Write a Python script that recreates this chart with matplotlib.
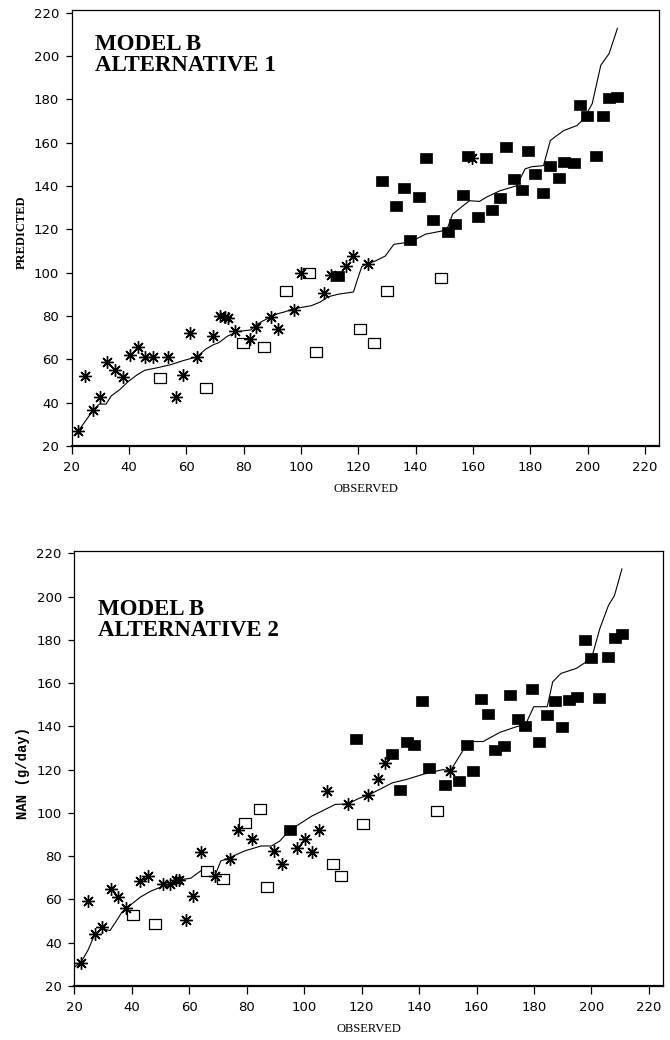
import matplotlib
matplotlib.use("Agg")
import matplotlib.pyplot as plt

# ---- panel 1: MODEL B, ALTERNATIVE 1 ----
star_x1 = [22.3, 24.8, 27.6, 29.9, 32.4, 35.2, 37.9, 40.2, 43.0, 45.5, 48.2, 53.7, 56.3, 59.0,
           61.4, 63.7, 69.2, 71.7, 73.5, 74.6, 76.9, 82.1, 84.3, 89.5, 92.1, 97.5, 100.1, 108.1,
           110.4, 115.7, 118.3, 123.3, 159.5]
star_y1 = [27.1, 52.3, 36.8, 42.6, 58.8, 55.1, 51.7, 62.0, 65.7, 61.2, 61.2, 61.2, 42.7, 52.7,
           72.1, 61.2, 70.9, 79.9, 79.6, 79.3, 73.2, 69.4, 74.8, 79.6, 73.9, 82.9, 99.7, 90.8,
           99.0, 103.0, 107.5, 103.9, 153.0]
open_x1 = [50.8, 66.7, 79.6, 87.2, 94.8, 102.7, 105.4, 120.6, 125.5, 130.0, 148.8]
open_y1 = [51.5, 46.8, 67.7, 65.7, 91.5, 99.7, 63.6, 73.9, 67.7, 91.5, 97.5]
fill_x1 = [113.0, 128.3, 135.9, 133.2, 141.0, 143.5, 138.2, 146.1, 151.2, 153.9, 156.4, 158.2,
           161.7, 164.4, 166.8, 169.4, 171.5, 174.3, 177.0, 179.3, 181.7, 184.4, 187.0, 189.9,
           191.9, 195.2, 197.5, 199.9, 202.8, 205.2, 207.5, 210.4]
fill_y1 = [98.5, 142.5, 139.1, 130.9, 135.0, 152.8, 115.0, 124.4, 118.6, 122.7, 136.0, 154.0,
           125.8, 153.0, 128.9, 134.4, 158.2, 143.2, 138.1, 156.3, 145.6, 136.6, 149.1, 143.7,
           151.0, 150.5, 177.5, 172.5, 154.0, 172.5, 180.7, 181.0]
line_x1 = [20.9, 22.3, 27.6, 29.6, 32.0, 33.8, 36.7, 39.7, 42.6, 45.5, 49.6, 54.3, 59.0, 63.7,
           66.7, 69.6, 71.3, 74.3, 77.8, 82.5, 84.3, 86.6, 89.5, 91.9, 94.2, 97.5, 103.6, 106.6,
           109.5, 113.0, 118.3, 119.5, 121.2, 123.3, 125.9, 129.4, 132.4, 138.2, 143.5, 149.4,
           151.2, 152.9, 155.8, 158.8, 162.3, 164.6, 169.4, 175.2, 178.2, 180.5, 184.6, 187.0,
           189.3, 191.7, 196.3, 198.7, 201.6, 204.6, 207.5, 210.4]
line_y1 = [25.0, 27.0, 36.8, 39.4, 39.4, 43.2, 46.0, 49.8, 52.7, 55.0, 56.1, 57.5, 59.5, 61.2,
           64.7, 66.9, 67.7, 70.7, 72.9, 73.6, 75.9, 77.7, 79.6, 81.1, 81.9, 83.4, 84.8, 86.4,
           88.9, 90.1, 91.1, 96.1, 102.8, 104.2, 105.4, 107.7, 113.1, 114.2, 117.8, 119.3,
           120.9, 127.0, 130.1, 133.2, 132.9, 134.8, 137.8, 140.1, 147.9, 148.9, 149.4, 161.0,
           163.3, 165.6, 167.9, 171.0, 178.0, 195.7, 201.1, 212.7]

# ---- panel 2: MODEL B, ALTERNATIVE 2 ----
star_x2 = [22.2, 24.7, 27.1, 29.7, 32.6, 35.1, 38.0, 42.9, 45.6, 50.9, 53.2, 55.5, 56.5, 59.0,
           61.4, 64.0, 68.9, 74.3, 76.9, 81.9, 89.4, 92.1, 97.6, 100.3, 102.6, 105.0, 107.9,
           115.3, 122.3, 125.7, 128.2, 150.9]
star_y2 = [30.7, 59.1, 43.8, 47.1, 64.8, 61.0, 55.9, 68.6, 70.9, 67.1, 67.1, 68.9, 69.2, 50.5,
           61.7, 82.1, 70.9, 78.6, 91.9, 87.8, 82.4, 76.6, 84.0, 88.1, 82.1, 91.9, 110.3,
           104.2, 108.2, 115.9, 123.1, 119.5]
open_x2 = [40.3, 48.2, 66.3, 71.6, 79.5, 84.5, 87.2, 110.2, 112.9, 120.5, 146.2]
open_y2 = [53.0, 48.4, 73.2, 69.4, 95.2, 101.9, 65.9, 76.3, 70.6, 94.7, 100.8]
fill_x2 = [95.0, 118.1, 130.5, 133.3, 135.7, 138.3, 140.9, 143.6, 148.9, 153.9, 156.5, 158.8,
           161.4, 164.1, 166.4, 169.4, 171.7, 174.3, 177.0, 179.3, 181.9, 184.6, 187.2, 189.9,
           192.3, 194.9, 197.7, 200.0, 202.7, 205.6, 208.2, 210.7]
fill_y2 = [92.1, 134.1, 127.2, 110.8, 132.6, 131.5, 151.7, 120.8, 113.1, 114.6, 131.5, 119.5,
           152.5, 145.8, 129.2, 130.7, 154.5, 143.5, 140.2, 157.3, 133.0, 145.3, 151.7, 139.6,
           152.1, 153.7, 180.1, 171.7, 153.0, 172.1, 180.9, 182.9]
line_x2 = [20.0, 22.2, 24.7, 27.1, 29.7, 32.4, 34.7, 36.5, 38.0, 40.0, 42.9, 46.4, 49.9, 53.2,
           55.8, 60.5, 64.0, 66.3, 68.9, 71.0, 74.3, 79.2, 85.0, 88.6, 91.5, 95.0, 99.1, 102.6,
           106.1, 110.8, 115.3, 119.0, 122.3, 130.7, 135.4, 141.8, 148.3, 150.9, 156.5, 158.8,
           162.3, 168.2, 174.0, 177.0, 179.9, 184.6, 186.5, 189.4, 194.7, 200.0, 202.9, 205.9,
           208.0, 210.6]
line_y2 = [28.7, 30.7, 36.4, 43.8, 46.4, 45.6, 50.2, 54.0, 55.9, 57.9, 61.0, 63.7, 65.6, 67.1,
           68.9, 69.8, 73.2, 74.0, 70.9, 77.8, 79.4, 82.4, 84.7, 84.7, 87.0, 92.1, 95.5, 98.5,
           100.8, 103.9, 104.2, 106.7, 108.2, 113.9, 115.4, 118.0, 120.0, 119.5, 131.5, 133.0,
           133.0, 137.3, 139.9, 140.7, 149.1, 149.1, 160.6, 164.5, 166.8, 171.4, 185.2, 195.9,
           200.5, 212.8]

ticks = [20, 40, 60, 80, 100, 120, 140, 160, 180, 200, 220]

rect = [(-1.25, -1), (1.25, -1), (1.25, 1), (-1.25, 1), (-1.25, -1)]

fig = plt.figure(figsize=(6.7, 10.4), dpi=100)
ax1 = fig.add_axes([0.107, 0.571, 0.877, 0.419])
ax2 = fig.add_axes([0.111, 0.052, 0.879, 0.418])


def draw(ax, sx, sy, ox, oy, fx, fy, lx, ly, title, ty, ylabel, yfont):
    ax.plot(lx, ly, color="black", lw=0.8, zorder=2)
    ax.plot(ox, oy, ls="none", marker=rect, ms=9, mfc="white", mec="black", mew=0.9, zorder=3)
    ax.plot(fx, fy, ls="none", marker=rect, ms=9, mfc="black", mec="black", mew=0.5, zorder=4)
    ax.plot(sx, sy, ls="none", marker=(8, 2, 0), ms=9, color="black", mew=1.0, zorder=5)
    ax.set_xlim(20, 225)
    ax.set_ylim(20, 221)
    ax.set_xticks(ticks)
    ax.set_yticks(ticks)
    ax.tick_params(axis="x", direction="out", length=6, width=0.9, pad=5, labelsize=9.5)
    ax.tick_params(axis="y", direction="out", length=4, width=0.9, pad=5, labelsize=9.5)
    for s in ax.spines.values():
        s.set_linewidth(0.9)
    ax.spines["bottom"].set_linewidth(1.6)
    ax.text(0.04, ty, title, transform=ax.transAxes, va="top", ha="left",
            fontsize=16.5, fontweight="bold", family="Liberation Serif", linespacing=1.0)
    ax.set_xlabel("OBSERVED", family="Liberation Serif", fontsize=9)
    ax.xaxis.set_label_coords(0.5, -0.085)
    ax.set_ylabel(ylabel, **yfont)
    ax.yaxis.set_label_coords(-0.075, 0.49)


draw(ax1, star_x1, star_y1, open_x1, open_y1, fill_x1, fill_y1, line_x1, line_y1,
     "MODEL B\nALTERNATIVE 1", 0.945, "PREDICTED",
     dict(family="Liberation Serif", fontsize=9, fontweight="bold"))
draw(ax2, star_x2, star_y2, open_x2, open_y2, fill_x2, fill_y2, line_x2, line_y2,
     "MODEL B\nALTERNATIVE 2", 0.89, "NAN (g/day)",
     dict(family="Liberation Mono", fontsize=10, fontweight="bold"))

fig.savefig("out.png", dpi=100)
